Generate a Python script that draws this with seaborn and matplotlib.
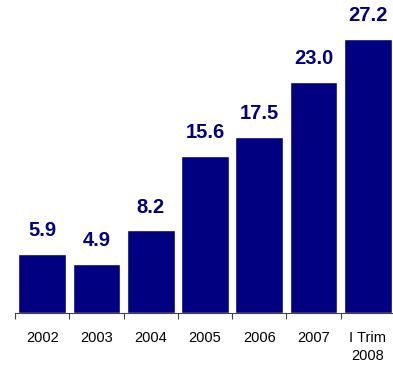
import numpy as np
import pandas as pd
import matplotlib
matplotlib.use("Agg")
import matplotlib.pyplot as plt
import seaborn as sns

periods = ["2002", "2003", "2004", "2005", "2006", "2007", "I Trim\n2008"]
values = [5.9, 4.9, 8.2, 15.6, 17.5, 23.0, 27.2]

NAVY = "#000080"

sns.set_style("white")
plt.rcParams["font.family"] = ["Liberation Sans", "DejaVu Sans"]

df = pd.DataFrame({"period": periods, "value": values})

fig = plt.figure(figsize=(3.93, 3.68), dpi=100)
ax = fig.add_axes([15 / 393, 55 / 368, 380 / 393, 313 / 368])
sns.barplot(data=df, x="period", y="value", color=NAVY, width=0.88,
            saturation=1, ax=ax)

ax.set_xlim(-0.5, 6.5)
ax.set_ylim(0, 31.1)
ax.set_xlabel("")
ax.set_ylabel("")
ax.set_yticks([])
for s in ("top", "right", "left"):
    ax.spines[s].set_visible(False)
ax.spines["bottom"].set_color("#444444")
ax.spines["bottom"].set_linewidth(0.8)

# category labels without major ticks, boundary ticks as minor
ax.tick_params(axis="x", which="major", bottom=True, length=0, pad=13,
               labelsize=10.5, labelcolor="black")
for lab in ax.get_xticklabels():
    lab.set_linespacing(1.35)
ax.set_xticks(np.arange(-0.5, 6, 1.0), minor=True)
ax.tick_params(axis="x", which="minor", bottom=True, length=4, width=0.8,
               color="#444444", direction="out")

for i, v in enumerate(values):
    ax.annotate(f"{v:.1f}", (i, v), xytext=(0, 10), textcoords="offset points",
                ha="center", va="bottom", fontsize=14.5, fontweight="bold",
                color=NAVY)

plt.savefig("out.png", dpi=100)
plt.close()
